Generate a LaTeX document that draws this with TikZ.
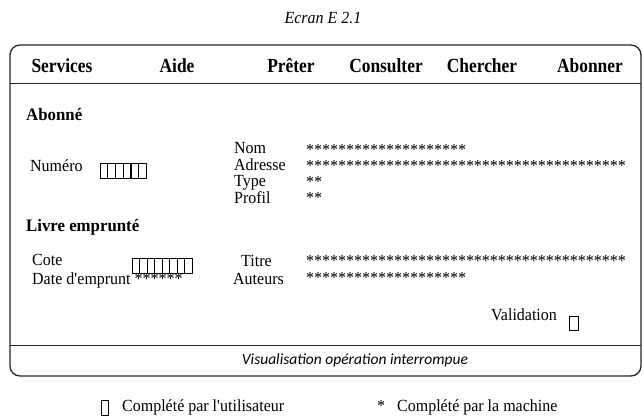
\documentclass[tikz,border=0pt]{standalone}
\usepackage{fontspec}
\setmainfont[FakeStretch=0.94]{Liberation Serif}
\newfontfamily\menufont[FakeStretch=0.87]{Liberation Serif}
\newfontfamily\headfont[FakeStretch=0.96]{Liberation Serif}
\newfontfamily\statusfont{Carlito}
\tikzset{
  lbl/.style={anchor=base west, inner sep=0pt, font=\fontsize{17}{17}\selectfont},
  menuitem/.style={anchor=base, inner sep=0pt, font=\menufont\bfseries\fontsize{20}{20}\selectfont},
  head/.style={anchor=base west, inner sep=0pt, font=\headfont\bfseries\fontsize{17.5}{17.5}\selectfont},
  stars/.style={anchor=base west, inner sep=0pt, font=\fontsize{17}{17}\selectfont},
  screenframe/.style={line width=1.3pt, draw=black!85},
  sepline/.style={line width=1pt, draw=black!85},
  cellline/.style={line width=0.8pt},
  thickcell/.style={line width=1.8pt}
}
\begin{document}
\begin{tikzpicture}[x=1pt,y=-1pt]
\useasboundingbox (0,0) rectangle (643,417);
% title
\node[anchor=base, inner sep=0pt, font=\itshape\fontsize{17}{17}\selectfont] (title) at (323,24) {Ecran E 2.1};
% frame
\draw[screenframe, rounded corners=10pt] (10,45) rectangle (641,376);
\coordinate (m1) at (10,84); \coordinate (m2) at (641,84);
\coordinate (s1) at (10,345); \coordinate (s2) at (641,345);
\draw[sepline] (m1) -- (m2);
\draw[sepline] (s1) -- (s2);
% menu
\node[menuitem] (services) at (62,73) {Services};
\node[menuitem] (aide) at (177,73) {Aide};
\node[menuitem] (preter) at (291,73) {Prêter};
\node[menuitem] (consulter) at (386,73) {Consulter};
\node[menuitem] (chercher) at (482,73) {Chercher};
\node[menuitem] (abonner) at (590,73) {Abonner};
% Abonne
\node[head] (abonne) at (26,121) {Abonné};
\node[lbl] (numero) at (30,172) {Numéro};
\draw[cellline] (100,163) rectangle (146,178);
\foreach \i in {1,2,3,5} \draw[cellline] ({100+\i*46/6},163) -- ++(0,15);
\draw[thickcell] ({100+4*46/6},163) -- ++(0,15);
\node[lbl] (nom) at (234,154) {Nom};
\node[lbl] (adresse) at (234,171) {Adresse};
\node[lbl] (type) at (234,187) {Type};
\node[lbl] (profil) at (234,204) {Profil};
\node[stars] (snom) at (306,156) {********************};
\node[stars] (sadr) at (306,172) {****************************************};
\node[stars] (stype) at (306,188) {**};
\node[stars] (sprof) at (306,204) {**};
% Livre
\node[head] (livre) at (26,232) {Livre emprunté};
\node[lbl] (cote) at (32,265) {Cote};
\node[lbl] (date) at (32,284) {Date d\textquotesingle emprunt ******};
\draw[cellline] (132,258) rectangle (192,273);
\foreach \i in {1,2,3,4,6,7} \draw[cellline] ({132+\i*60/8},258) -- ++(0,15);
\draw[thickcell] ({132+5*60/8},258) -- ++(0,15);
\node[lbl] (titre) at (241,266) {Titre};
\node[lbl] (auteurs) at (233,284) {Auteurs};
\node[stars] (stitre) at (306,266) {****************************************};
\node[stars] (saut) at (306,283) {********************};
% validation
\node[lbl] (valid) at (491,320) {Validation};
\draw[cellline] (569,316) rectangle (578,330);
% status
\node[anchor=base, inner sep=0pt, font=\statusfont\itshape\fontsize{15.5}{15.5}\selectfont] (status) at (355,364) {Visualisation opération interrompue};
% legend
\draw[cellline] (101,400) rectangle (108,415);
\node[lbl] (leg1) at (122,411) {Complété par l\textquotesingle utilisateur};
\node[lbl] (legstar) at (377,411) {*};
\node[lbl] (leg2) at (397,411) {Complété par la machine};
\end{tikzpicture}
\end{document}
